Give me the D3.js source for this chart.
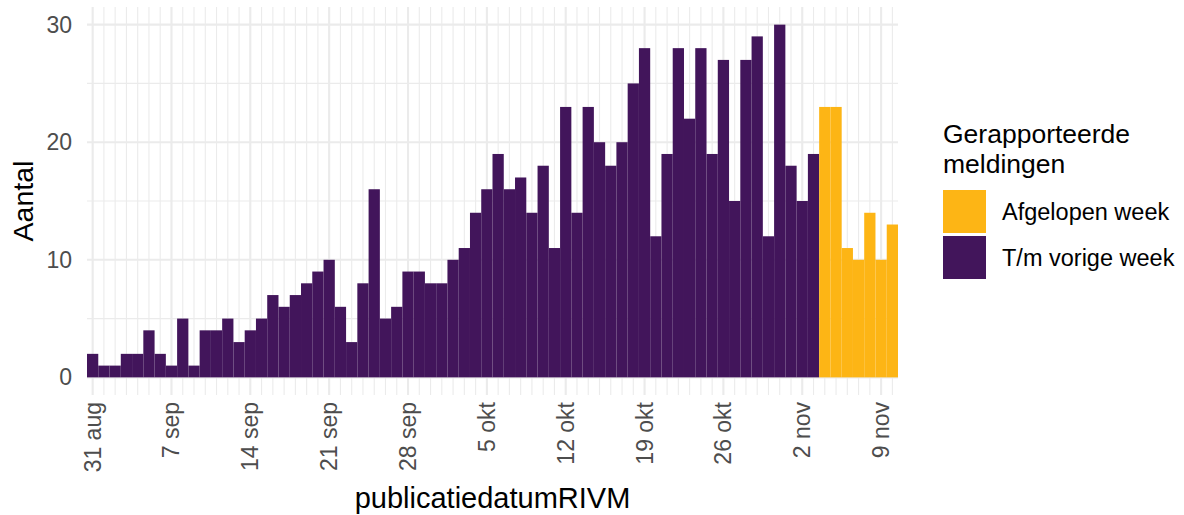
<!DOCTYPE html>
<html>
<head>
<meta charset="utf-8">
<script src="https://cdn.jsdelivr.net/npm/d3@7"></script>
<style>
	body { margin: 0; background: #fff; }
	svg { display: block; font-family: "Liberation Sans", Arial, sans-serif; }
</style>
</head>
<body>
<svg id="grafiek" width="1184" height="515"></svg>
<script>
// eerste publicatiedatum, daarna 1 balk per dag
var startDatum = "2020-08-31";

// T/m vorige week (31 aug - 3 nov)
var vorigeWeek = [2,1,1,2,2,4,2,1,5,1,4,4,5,3,4,5,7,6,7,8,9,10,6,3,8,16,5,6,9,9,
	8,8,10,11,14,16,19,16,17,14,18,11,23,14,23,20,18,20,25,28,12,19,28,22,28,19,27,15,27,29,
	12,30,18,15,19];
// Afgelopen week (4 nov - 10 nov)
var afgelopenWeek = [23,23,11,10,14,10,13];

var reeksen = ["Afgelopen week", "T/m vorige week"];
var kleuren = ["#fdb515", "#42155b"];

var yTicks = [0, 10, 20, 30];
var yMinor = [5, 15, 25];
var xTickLabels = ["31 aug","7 sep","14 sep","21 sep","28 sep","5 okt","12 okt","19 okt","26 okt","2 nov","9 nov"];

function init(){
	var svg = d3.select('#grafiek');
	var links = 87, rechts = 898, boven = 7, onder = 395;

	var parse = d3.timeParse("%Y-%m-%d");
	var start = parse(startDatum);
	var waarden = vorigeWeek.concat(afgelopenWeek);
	var data = waarden.map(function(v, i){
		return {
			datum: d3.timeDay.offset(start, i),
			aantal: v,
			reeks: i < vorigeWeek.length ? reeksen[1] : reeksen[0]
		};
	});

	var x = d3.scaleBand()
		.domain(data.map(function(d){ return +d.datum; }))
		.range([links, rechts])
		.padding(0);
	var y = d3.scaleLinear().domain([-1.5, 31.5]).range([onder, boven]);
	var kleur = d3.scaleOrdinal().domain(reeksen).range(kleuren);
	var mid = function(d){ return x(+d) + x.bandwidth()/2; };

	// rasterlijnen
	var raster = svg.append("g");
	raster.selectAll(".ymin").data(yMinor).enter().append("line")
		.attr("x1", links).attr("x2", rechts)
		.attr("y1", function(d){ return y(d); }).attr("y2", function(d){ return y(d); })
		.attr("stroke", "#ebebeb").attr("stroke-width", 1.1);
	raster.selectAll(".xmin").data(data).enter().append("line")
		.attr("x1", function(d){ return mid(d.datum); }).attr("x2", function(d){ return mid(d.datum); })
		.attr("y1", boven).attr("y2", onder)
		.attr("stroke", "#ebebeb").attr("stroke-width", 1.1);

	var tickData = xTickLabels.map(function(l, i){
		return {label: l, datum: d3.timeDay.offset(start, 7*i)};
	});
	raster.selectAll(".ymaj").data(yTicks).enter().append("line")
		.attr("x1", links).attr("x2", rechts)
		.attr("y1", function(d){ return y(d); }).attr("y2", function(d){ return y(d); })
		.attr("stroke", "#ebebeb").attr("stroke-width", 2.1);
	raster.selectAll(".xmaj").data(tickData).enter().append("line")
		.attr("x1", function(d){ return mid(d.datum); }).attr("x2", function(d){ return mid(d.datum); })
		.attr("y1", boven).attr("y2", onder)
		.attr("stroke", "#ebebeb").attr("stroke-width", 2.1);

	// balken
	svg.append("g").selectAll("rect").data(data).enter().append("rect")
		.attr("x", function(d){ return x(+d.datum); })
		.attr("width", x.bandwidth())
		.attr("y", function(d){ return y(d.aantal); })
		.attr("height", function(d){ return y(0) - y(d.aantal); })
		.attr("fill", function(d){ return kleur(d.reeks); });

	// y-as
	var yAs = svg.append("g")
		.attr("transform", "translate(" + (links - 6) + ",0)")
		.call(d3.axisLeft(y).tickValues(yTicks).tickSize(0).tickPadding(9));
	yAs.select(".domain").remove();
	yAs.selectAll("text").attr("font-size", 23).attr("fill", "#4d4d4d")
		.attr("font-family", "Liberation Sans, Arial, sans-serif");

	// x-as
	var xAs = svg.append("g");
	xAs.selectAll("text").data(tickData).enter().append("text")
		.attr("transform", function(d){ return "translate(" + (mid(d.datum) + 8) + ",402) rotate(-90)"; })
		.attr("text-anchor", "end")
		.attr("font-size", 23)
		.attr("fill", "#4d4d4d")
		.text(function(d){ return d.label; });

	// astitels
	svg.append("text")
		.attr("x", (links + rechts)/2).attr("y", 508)
		.attr("text-anchor", "middle").attr("font-size", 29).attr("fill", "#000")
		.text("publicatiedatumRIVM");
	svg.append("text")
		.attr("transform", "translate(33," + ((boven + onder)/2) + ") rotate(-90)")
		.attr("text-anchor", "middle").attr("font-size", 28.5).attr("fill", "#000")
		.text("Aantal");

	// legenda
	var leg = svg.append("g").attr("transform", "translate(943,0)");
	leg.append("text").attr("x", 0).attr("y", 143).attr("font-size", 26.5).text("Gerapporteerde");
	leg.append("text").attr("x", 0).attr("y", 173).attr("font-size", 26.5).text("meldingen");
	var item = leg.selectAll(".item").data(reeksen).enter().append("g")
		.attr("transform", function(d, i){ return "translate(0," + (190 + i*46) + ")"; });
	item.append("rect").attr("width", 43).attr("height", 43)
		.attr("fill", function(d){ return kleur(d); });
	item.append("text").attr("x", 59).attr("y", 30).attr("font-size", 23.5)
		.text(function(d){ return d; });
}
init();
</script>
</body>
</html>
